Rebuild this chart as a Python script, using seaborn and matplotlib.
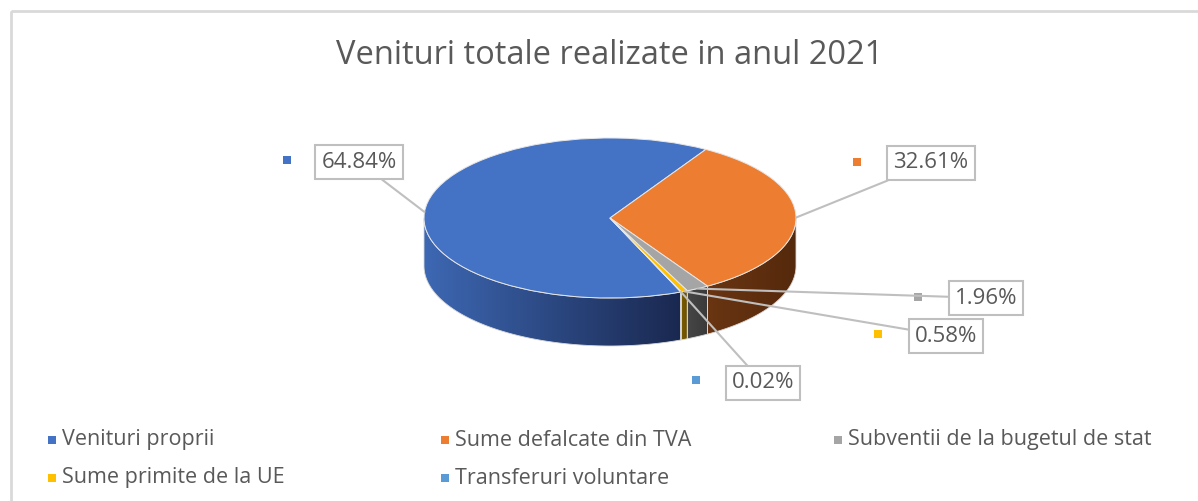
import numpy as np
import matplotlib
matplotlib.use("Agg")
import matplotlib.pyplot as plt
from matplotlib.colors import LinearSegmentedColormap
from matplotlib.patches import Polygon, Rectangle
import seaborn as sns

# ---- data ----
categories = ["Venituri proprii", "Sume defalcate din TVA",
              "Subventii de la bugetul de stat", "Sume primite de la UE",
              "Transferuri voluntare"]
shares = [64.84, 32.61, 1.96, 0.58, 0.02]
pct_labels = ["64.84%", "32.61%", "1.96%", "0.58%", "0.02%"]

# ---- style ----
top_colors = ["#4472C4", "#ED7D31", "#A5A5A5", "#FFC000", "#5B9BD5"]
side_colors = [("#3d68b3", "#1a2850"), ("#693512", "#55290c"),
               ("#464646", "#3a3a3a"), ("#7a5c00", "#6a5000"),
               ("#3a6a96", "#2a5070")]
text_grey = "#595959"
box_grey = "#bfbfbf"

W, H = 1198, 501
sns.set_theme(style="white")
plt.rcParams['font.family'] = ['Open Sans', 'DejaVu Sans']

fig = plt.figure(figsize=(W / 100, H / 100), dpi=100)

# overlay axes in pixel coordinates (title, frame, legend, markers)
ov = fig.add_axes([0, 0, 1, 1])
ov.set_xlim(0, W)
ov.set_ylim(H, 0)
ov.axis('off')

# ---- pie (top faces from ax.pie, squashed into an ellipse) ----
cx, cy, rx, ry, depth = 610, 218, 186, 80, 0.6
xl, yl_top, yl_bot = 1.2, 1.2, 1.9
pax = fig.add_axes([(cx - xl * rx) / W, (H - cy - yl_bot * ry) / H,
                    2 * xl * rx / W, (yl_top + yl_bot) * ry / H])
wedges, _ = pax.pie(shares, startangle=292.4, counterclock=False,
                    colors=top_colors,
                    wedgeprops=dict(edgecolor="#e6e6e6", linewidth=0.7, zorder=3))

# side walls of the 3D pie, front half only
for w, (c1, c2) in zip(wedges, side_colors):
    t = np.radians(np.linspace(w.theta1, w.theta2, 400))
    t = t[np.sin(t) < 0]
    if len(t) < 2:
        continue
    x, y = np.cos(t), np.sin(t)
    verts = np.concatenate([np.column_stack([x, y]),
                            np.column_stack([x[::-1], y[::-1] - depth])])
    poly = Polygon(verts, closed=True, facecolor='none',
                   edgecolor="#d8d8d8", linewidth=0.6, zorder=2)
    pax.add_patch(poly)
    cmap = LinearSegmentedColormap.from_list("side", [c1, c2])
    img = pax.imshow(np.linspace(0, 1, 256).reshape(1, -1), cmap=cmap,
                     aspect='auto', zorder=1,
                     extent=(x.min(), x.max(), y.min() - depth, y.max()))
    img.set_clip_path(poly)

pax.set_aspect('auto')
pax.set_xlim(-xl, xl)
pax.set_ylim(-yl_bot, yl_top)
pax.axis('off')

# ---- data labels with leader lines ----
label_pos = [(359, 162), (931, 163), (986, 298), (946, 336), (763, 383)]
key_pos = [(287, 160), (857, 162), (918, 297), (878, 334), (696, 380)]
for w, lab, (px, py) in zip(wedges, pct_labels, label_pos):
    mid = np.radians((w.theta1 + w.theta2) / 2)
    pax.annotate(lab, xy=(np.cos(mid), np.sin(mid)), xycoords='data',
                 xytext=(px, H - py), textcoords='figure pixels',
                 ha='center', va='center', fontsize=16, color=text_grey,
                 bbox=dict(boxstyle='square,pad=0.28', fc='white',
                           ec=box_grey, lw=1.5),
                 arrowprops=dict(arrowstyle='-', color=box_grey, lw=1.5,
                                 shrinkA=0, shrinkB=0),
                 zorder=5, annotation_clip=False)
kx, ky = zip(*key_pos)
ov.scatter(kx, ky, marker='s', s=28, c=top_colors, linewidths=0)

# ---- title ----
ov.text(610, 64, "Venituri totale realizate in anul 2021", ha='center',
        va='baseline', fontsize=23.5, color=text_grey)

# ---- legend ----
leg_x = [52, 445, 838, 52, 445]
leg_y = [440, 440, 440, 478, 478]
ov.scatter(leg_x, leg_y, marker='s', s=30, c=top_colors, linewidths=0)
for x, y, name in zip(leg_x, leg_y, categories):
    ov.text(x + 10, y, name, ha='left', va='center', fontsize=15.5,
            color=text_grey)

# ---- chart frame ----
ov.add_patch(Rectangle((10.5, 11), W + 20, H + 20, fill=False,
                       ec="#d9d9d9", lw=2))

fig.savefig("out.png", dpi=100)
